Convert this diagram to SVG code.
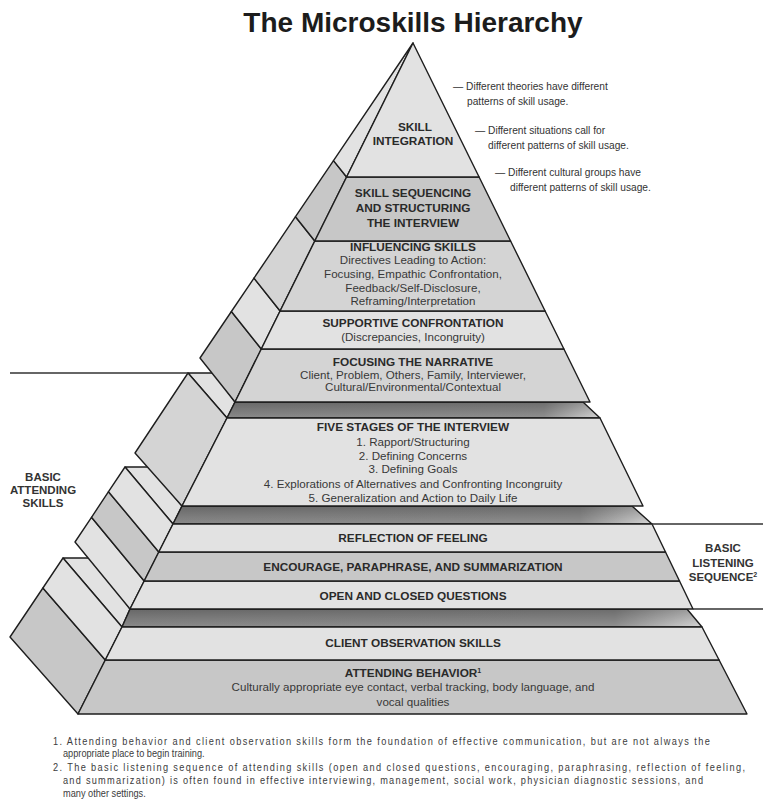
<svg xmlns="http://www.w3.org/2000/svg" width="763" height="801" viewBox="0 0 763 801">
  <defs>
    <style>
      .edge { stroke:#1e1e1e; stroke-width:1.4; stroke-linejoin:round; }
      .lt { fill:#e2e2e2; }
      .ml { fill:#d4d4d4; }
      .md { fill:#c7c7c7; }
      .hd { font-family:"Liberation Sans", Arial, sans-serif; font-weight:bold; font-size:11.8px; fill:#2a2a2a; text-anchor:middle; }
      .bd { font-family:"Liberation Sans", Arial, sans-serif; font-size:11.6px; fill:#383838; text-anchor:middle; }
      .side { font-family:"Liberation Sans", Arial, sans-serif; font-weight:bold; font-size:11.5px; fill:#333; text-anchor:middle; }
      .note { font-family:"Liberation Sans", Arial, sans-serif; font-size:10.2px; fill:#333; }
      .foot { font-family:"Liberation Sans", Arial, sans-serif; font-size:11.5px; fill:#3c3c3c; }
      .rule { stroke:#333; stroke-width:1.3; fill:none; }
      .sup { font-size:7px; }
    </style>
    <!-- shaded ledge between stacked tiers -->
    <linearGradient id="ledgeTone" x1="0" y1="0" x2="1" y2="0">
      <stop offset="0" stop-color="#8a8a8a"/>
      <stop offset="0.85" stop-color="#909090"/>
      <stop offset="1" stop-color="#d6d6d6"/>
    </linearGradient>
    <linearGradient id="ledgeDepth" x1="0" y1="0" x2="0" y2="1">
      <stop offset="0" stop-color="#000" stop-opacity="0.25"/>
      <stop offset="1" stop-color="#000" stop-opacity="0"/>
    </linearGradient>
  </defs>

  <rect width="763" height="801" fill="#fff"/>

  <text id="title" x="413" y="32" font-family="Liberation Sans, Arial, sans-serif" font-weight="bold" font-size="28" fill="#1c1c1c" text-anchor="middle">The Microskills Hierarchy</text>

  <!-- bottom tier: attending behavior and client observation -->
  <g id="tier4-ledge">
    <polygon class="edge lt" points="63,558 95,558 130,609 122,627"/>
    <polygon class="edge" fill="url(#ledgeTone)" points="130,609 687,609 702,627 122,627"/>
    <polygon fill="url(#ledgeDepth)" points="130,609 687,609 702,627 122,627"/>
  </g>
  <g id="attending-behavior">
    <polygon class="edge md" points="42.9,588 10,637 78,714 105.3,660"/>
    <polygon class="edge md" points="105.3,660 719.1,660 747,714 78,714"/>
    <text class="hd" x="413" y="677">ATTENDING BEHAVIOR<tspan class="sup" dy="-4">1</tspan></text>
    <text class="bd" x="413" y="691">Culturally appropriate eye contact, verbal tracking, body language, and</text>
    <text class="bd" x="413" y="706">vocal qualities</text>
  </g>
  <g id="client-observation">
    <polygon class="edge lt" points="63,558 42.9,588 105.3,660 122,627"/>
    <polygon class="edge lt" points="122,627 702,627 719.1,660 105.3,660"/>
    <text class="hd" x="413" y="647">CLIENT OBSERVATION SKILLS</text>
  </g>

  <!-- basic listening sequence tier -->
  <g id="tier3-ledge">
    <polygon class="edge lt" points="125,467 150,467 182,506 173,524"/>
    <polygon class="edge" fill="url(#ledgeTone)" points="182,506 632,506 652,524 173,524"/>
    <polygon fill="url(#ledgeDepth)" points="182,506 632,506 652,524 173,524"/>
  </g>
  <g id="open-closed-questions">
    <polygon class="edge lt" points="91.5,517.3 75,542 130,609 144.2,581"/>
    <polygon class="edge lt" points="144.2,581 679.5,581 693,609 130,609"/>
    <text class="hd" x="413" y="600">OPEN AND CLOSED QUESTIONS</text>
  </g>
  <g id="encourage-paraphrase">
    <polygon class="edge md" points="108.5,491.7 91.5,517.3 144.2,581 158.8,552"/>
    <polygon class="edge md" points="158.8,552 665.5,552 679.5,581 144.2,581"/>
    <text class="hd" x="413" y="571">ENCOURAGE, PARAPHRASE, AND SUMMARIZATION</text>
  </g>
  <g id="reflection-of-feeling">
    <polygon class="edge lt" points="125,467 108.5,491.7 158.8,552 173,524"/>
    <polygon class="edge lt" points="173,524 652,524 665.5,552 158.8,552"/>
    <text class="hd" x="413" y="542">REFLECTION OF FEELING</text>
  </g>

  <!-- five stages tier -->
  <g id="tier2-ledge">
    <polygon class="edge lt" points="188,373 214,373 235,402 227,418"/>
    <polygon class="edge" fill="url(#ledgeTone)" points="235,402 583,402 600,418 227,418"/>
    <polygon fill="url(#ledgeDepth)" points="235,402 583,402 600,418 227,418"/>
  </g>
  <g id="five-stages">
    <polygon class="edge ml" points="188,373 135,453 182,506 227,418"/>
    <polygon class="edge lt" points="227,418 600,418 643,506 182,506"/>
    <text class="hd" x="413" y="431">FIVE STAGES OF THE INTERVIEW</text>
    <text class="bd" x="413" y="446">1. Rapport/Structuring</text>
    <text class="bd" x="413" y="460">2. Defining Concerns</text>
    <text class="bd" x="413" y="473">3. Defining Goals</text>
    <text class="bd" x="413" y="488">4. Explorations of Alternatives and Confronting Incongruity</text>
    <text class="bd" x="413" y="502">5. Generalization and Action to Daily Life</text>
  </g>

  <!-- top pyramid -->
  <g id="focusing-narrative">
    <polygon class="edge md" points="231.4,311.5 200,358 235,402 261.3,349"/>
    <polygon class="edge ml" points="261.3,349 563.9,349 590,402 235,402"/>
    <text class="hd" x="413" y="366">FOCUSING THE NARRATIVE</text>
    <text class="bd" x="413" y="379">Client, Problem, Others, Family, Interviewer,</text>
    <text class="bd" x="413" y="391">Cultural/Environmental/Contextual</text>
  </g>
  <g id="supportive-confrontation">
    <polygon class="edge lt" points="254,278.1 231.4,311.5 261.3,349 280.1,311"/>
    <polygon class="edge lt" points="280.1,311 545.1,311 563.9,349 261.3,349"/>
    <text class="hd" x="413" y="327">SUPPORTIVE CONFRONTATION</text>
    <text class="bd" x="413" y="341">(Discrepancies, Incongruity)</text>
  </g>
  <g id="influencing-skills">
    <polygon class="edge ml" points="295.5,216.7 254,278.1 280.1,311 314.8,241"/>
    <polygon class="edge ml" points="314.8,241 510.6,241 545.1,311 280.1,311"/>
    <text class="hd" x="413" y="251">INFLUENCING SKILLS</text>
    <text class="bd" x="413" y="264">Directives Leading to Action:</text>
    <text class="bd" x="413" y="278">Focusing, Empathic Confrontation,</text>
    <text class="bd" x="413" y="292">Feedback/Self-Disclosure,</text>
    <text class="bd" x="413" y="305">Reframing/Interpretation</text>
  </g>
  <g id="skill-sequencing">
    <polygon class="edge md" points="333.5,160.6 295.5,216.7 314.8,241 346.6,177"/>
    <polygon class="edge md" points="346.6,177 479.1,177 510.6,241 314.8,241"/>
    <text class="hd" x="413" y="197">SKILL SEQUENCING</text>
    <text class="hd" x="413" y="212">AND STRUCTURING</text>
    <text class="hd" x="413" y="227">THE INTERVIEW</text>
  </g>
  <g id="skill-integration">
    <polygon class="edge lt" points="413,43 333.5,160.6 346.6,177"/>
    <polygon class="edge lt" points="413,43 479.1,177 346.6,177"/>
    <text class="hd" x="415" y="131">SKILL</text>
    <text class="hd" x="413" y="145">INTEGRATION</text>
  </g>

  <!-- bracket rules for the grouped skill sets -->
  <g id="connectors">
    <line class="rule" x1="10" y1="373" x2="188" y2="373"/>
    <line class="rule" x1="652" y1="524" x2="763" y2="524"/>
    <line class="rule" x1="693" y1="609" x2="763" y2="609"/>
  </g>

  <g id="basic-attending-skills">
    <text class="side" x="43" y="481">BASIC</text>
    <text class="side" x="43" y="494">ATTENDING</text>
    <text class="side" x="43" y="507">SKILLS</text>
  </g>
  <g id="basic-listening-sequence">
    <text class="side" x="723" y="552">BASIC</text>
    <text class="side" x="723" y="567">LISTENING</text>
    <text class="side" x="723" y="581">SEQUENCE<tspan class="sup" dy="-4">2</tspan></text>
  </g>

  <g id="integration-notes">
    <text class="note" x="453" y="90">— Different theories have different</text>
    <text class="note" x="467" y="105">patterns of skill usage.</text>
    <text class="note" x="475" y="134">— Different situations call for</text>
    <text class="note" x="488" y="149">different patterns of skill usage.</text>
    <text class="note" x="495" y="176">— Different cultural groups have</text>
    <text class="note" x="510" y="191">different patterns of skill usage.</text>
  </g>

  <!-- condensed, justified footnotes -->
  <g id="footnotes" transform="translate(53 0) scale(0.8 1)">
    <text class="foot" x="0" y="745" textLength="821" lengthAdjust="spacing">1. Attending behavior and client observation skills form the foundation of effective communication, but are not always the</text>
    <text class="foot" x="12.5" y="757">appropriate place to begin training.</text>
    <text class="foot" x="0" y="771" textLength="865" lengthAdjust="spacing">2. The basic listening sequence of attending skills (open and closed questions, encouraging, paraphrasing, reflection of feeling,</text>
    <text class="foot" x="12.5" y="784" textLength="800" lengthAdjust="spacing">and summarization) is often found in effective interviewing, management, social work, physician diagnostic sessions, and</text>
    <text class="foot" x="12.5" y="797">many other settings.</text>
  </g>
</svg>
